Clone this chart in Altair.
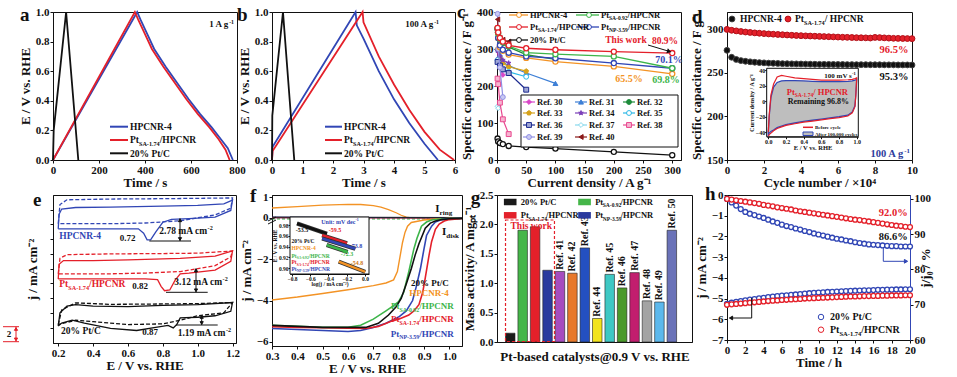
import altair as alt
import pandas as pd

FONT = "Liberation Serif"
BLUE = "#3146b5"; RED = "#e4202a"; BLACK = "#111111"; ORANGE = "#f39325"
GREEN = "#3db54a"; NAVY = "#27318f"; DBLUE = "#2c3c9c"; GRAY = "#bebebe"

PT174 = [("Pt", "n"), ("SA-1.74", "b"), ("/HPCNR", "n")]
PT092 = [("Pt", "n"), ("SA-0.92", "b"), ("/HPCNR", "n")]
PT359 = [("Pt", "n"), ("NP-3.59", "b"), ("/HPCNR", "n")]

# ---------------- data ----------------
# (a) GCD at 1 A/g
a_blue_t = [0, 366, 380, 410, 440, 490, 540, 590, 640, 690, 730, 760, 782]
a_blue_e = [0.0, 1.0, 0.95, 0.85, 0.75, 0.63, 0.52, 0.41, 0.31, 0.22, 0.14, 0.08, 0.0]
a_red_t = [0, 356, 370, 400, 430, 480, 530, 580, 630, 680, 720, 750, 768]
a_red_e = [0.0, 1.0, 0.95, 0.85, 0.75, 0.63, 0.52, 0.41, 0.31, 0.22, 0.14, 0.07, 0.0]
a_blk_t = [0, 3, 57, 110]
a_blk_e = [0.0, 0.2, 1.0, 0.0]
# (b) GCD at 100 A/g
b_blue_t = [0, 0.02, 2.74, 2.78, 3.0, 3.5, 4.0, 4.5, 5.0, 5.44]
b_blue_e = [0.0, 0.09, 1.0, 0.91, 0.82, 0.60, 0.41, 0.25, 0.11, 0.0]
b_red_t = [0, 0.02, 2.97, 3.0, 3.5, 4.0, 4.5, 5.0, 5.5, 5.97]
b_red_e = [0.0, 0.06, 1.0, 0.93, 0.70, 0.51, 0.34, 0.19, 0.07, 0.0]
b_blk_t = [0, 0.01, 0.36, 0.73]
b_blk_e = [0.0, 0.30, 1.0, 0.0]
# (c) rate capability
c_cd = [1, 2, 5, 10, 20, 50, 100, 200, 300]
c_hpcnr = [356, 330, 305, 295, 285, 276, 266, 253, 233]
c_sa092 = [355, 342, 328, 318, 308, 290, 286, 280, 248]
c_sa174 = [357, 345, 330, 320, 310, 302, 298, 293, 289]
c_np359 = [354, 330, 310, 298, 290, 280, 275, 262, 248]
c_ptc = [58, 50, 46, 43, 38, 35, 31, 22, 13]
c_ref_names = ["Ref. 30", "Ref. 31", "Ref. 32", "Ref. 33", "Ref. 34", "Ref. 35",
               "Ref. 36", "Ref. 37", "Ref. 38", "Ref. 39", "Ref. 40"]
c_ref_x = [[1, 2, 5, 10], [1, 5, 10, 20, 50, 100], [1, 5, 10, 20, 50, 100], [1, 5, 10, 20, 50],
           [1, 5, 10, 20], [1, 5, 10, 20, 50], [1, 5, 10, 20, 50], [1, 2], [1, 2, 5, 10, 20],
           [1, 2, 5, 10], [1, 2, 5, 10, 20]]
c_ref_y = [[300, 275, 250, 230], [300, 285, 265, 255, 235, 207], [345, 325, 315, 305, 285, 272],
           [300, 275, 262, 252, 240], [295, 280, 270, 262], [270, 255, 245, 238, 225],
           [265, 255, 245, 235, 190], [145, 140], [220, 205, 155, 110, 70],
           [395, 300, 250, 170], [380, 345, 330, 325, 320]]
# (d) cycling
d_cycle = [k * 0.25 for k in range(41)]
d_red = [300.0, 299.0, 298.3, 297.6, 297.0, 296.5, 296.0, 295.6, 295.2, 294.8, 294.5, 294.2, 293.9,
         293.6, 293.3, 293.0, 292.8, 292.6, 292.4, 292.2, 292.0, 291.8, 291.6, 291.4, 291.2, 291.0,
         290.9, 290.7, 290.5, 290.4, 290.3, 290.1, 290.8, 290.6, 290.3, 290.0, 289.8, 289.7, 289.6,
         289.5, 289.4]
d_blk = [276.0, 268.0, 265.5, 264.2, 263.4, 262.8, 262.3, 261.9, 261.6, 261.3, 261.1, 260.9, 260.7,
         260.6, 260.5, 260.4, 260.3, 260.2, 260.1, 260.0, 259.9, 259.9, 259.8, 259.8, 259.7, 259.7,
         259.6, 259.6, 259.5, 259.5, 259.5, 259.4, 259.4, 259.4, 259.3, 259.3, 259.3, 259.2, 259.2,
         259.2, 259.1]
di_E = [0.0, 0.01, 0.03, 0.06, 0.1, 0.15, 0.2, 0.3, 0.4, 0.5, 0.6, 0.7, 0.8, 0.9, 0.95, 0.98, 0.99, 1.0]
di_blue_up = [-40, -20, 5, 18, 24, 26, 26.5, 26.5, 26, 25.5, 25, 25, 25, 25.5, 26, 27, 27.5, 28]
di_blue_lo = [-43, -41, -39, -37, -34, -32, -30, -28, -26, -24.5, -23, -21.5, -20, -18, -14, -6, 8, 28]
di_red_up = [-40, -18, 8, 22, 31, 33, 32, 30, 29, 28, 27, 27, 27, 27.5, 28, 29, 29.5, 30]
di_red_lo = [-45, -43, -41, -38, -35, -33, -31, -29, -27, -25.5, -24, -22.5, -21, -19, -15, -7, 7, 30]
# (e) CVs (solid and dashed loops)
e_blue_x = [0.2, 0.205, 0.22, 0.3, 0.5, 0.8, 1.0, 1.15, 1.2, 1.19, 1.1, 0.95, 0.85, 0.8, 0.76, 0.73, 0.71, 0.69, 0.66, 0.5, 0.3, 0.2]
e_blue_y = [15.4, 17.4, 18.1, 18.3, 18.35, 18.5, 18.6, 18.8, 19.3, 17.9, 17.0, 16.8, 16.7, 16.3, 15.0, 13.9, 13.9, 14.8, 15.4, 15.4, 15.4, 15.4]
e_blued_x = [0.2, 0.21, 0.25, 0.5, 0.8, 1.0, 1.2, 1.19, 1.1, 0.9, 0.7, 0.5, 0.3, 0.2]
e_blued_y = [16.1, 18.7, 19.35, 19.45, 19.5, 19.55, 19.6, 18.2, 17.3, 16.5, 16.2, 16.1, 16.1, 16.1]
e_red_x = [0.2, 0.205, 0.23, 0.4, 0.6, 0.9, 1.1, 1.2, 1.19, 1.1, 0.95, 0.9, 0.87, 0.84, 0.81, 0.79, 0.77, 0.7, 0.5, 0.3, 0.2]
e_red_y = [8.6, 10.6, 11.1, 11.1, 11.2, 11.4, 11.7, 12.4, 11.0, 9.8, 9.4, 9.3, 8.4, 7.1, 7.0, 7.6, 8.5, 8.6, 8.6, 8.6, 8.6]
e_redd_x = [0.2, 0.21, 0.25, 0.5, 0.8, 1.0, 1.2, 1.19, 1.1, 0.9, 0.7, 0.5, 0.3, 0.2]
e_redd_y = [9.3, 11.4, 11.9, 12.0, 12.05, 12.1, 12.4, 11.6, 10.4, 9.6, 9.4, 9.3, 9.3, 9.3]
e_blk_x = [0.2, 0.21, 0.25, 0.3, 0.4, 0.6, 0.8, 1.0, 1.2, 1.19, 1.1, 1.0, 0.9, 0.88, 0.86, 0.83, 0.75, 0.65, 0.5, 0.35, 0.28, 0.22, 0.2]
e_blk_y = [2.2, 4.0, 4.9, 5.1, 4.9, 4.85, 5.0, 5.1, 5.4, 4.2, 3.6, 3.4, 3.3, 2.4, 1.95, 2.3, 2.0, 1.6, 1.9, 2.6, 3.0, 2.6, 2.2]
e_blkd_x = [0.2, 0.22, 0.3, 0.5, 0.8, 1.0, 1.2, 1.15, 1.0, 0.9, 0.8, 0.6, 0.4, 0.3, 0.2]
e_blkd_y = [2.4, 4.4, 5.35, 5.15, 5.2, 5.25, 5.4, 4.0, 3.6, 3.0, 2.5, 2.4, 2.8, 3.0, 2.4]
# (f) ORR polarization
f_or_x = [0.3, 0.4, 0.5, 0.6, 0.7, 0.75, 0.78, 0.795, 0.805, 0.815, 0.825, 0.835, 0.85, 0.9, 0.95, 1.0, 1.05]
f_or_y = [-3.97, -3.83, -3.66, -3.48, -3.28, -3.15, -3.0, -2.6, -1.9, -1.2, -0.7, -0.4, -0.22, -0.1, -0.05, -0.03, -0.02]
f_gr_x = [0.3, 0.4, 0.5, 0.6, 0.65, 0.7, 0.75, 0.78, 0.8, 0.82, 0.84, 0.86, 0.872, 0.89, 0.91, 0.93, 0.96, 1.0, 1.05]
f_gr_y = [-5.2, -5.25, -5.3, -5.3, -5.2, -4.9, -4.5, -4.25, -4.05, -3.6, -2.6, -1.5, -1.0, -0.4, -0.2, -0.1, -0.05, -0.03, -0.02]
f_bl_x = [0.3, 0.4, 0.5, 0.6, 0.65, 0.7, 0.75, 0.8, 0.83, 0.855, 0.87, 0.886, 0.9, 0.91, 0.93, 0.945, 0.97, 1.0, 1.05]
f_bl_y = [-5.35, -5.4, -5.45, -5.5, -5.45, -5.3, -5.1, -4.8, -4.5, -4.0, -3.3, -2.45, -1.5, -0.85, -0.4, -0.2, -0.08, -0.04, -0.02]
f_rd_x = [0.3, 0.4, 0.5, 0.6, 0.67, 0.72, 0.77, 0.8, 0.84, 0.86, 0.88, 0.895, 0.905, 0.92, 0.93, 0.945, 0.96, 0.98, 1.0, 1.05]
f_rd_y = [-5.27, -5.3, -5.32, -5.34, -5.35, -5.25, -5.0, -4.9, -4.7, -4.5, -4.2, -3.6, -2.9, -1.8, -1.15, -0.55, -0.3, -0.15, -0.08, -0.03]
f_bk_x = [0.3, 0.4, 0.5, 0.6, 0.67, 0.72, 0.76, 0.79, 0.81, 0.83, 0.85, 0.865, 0.88, 0.895, 0.905, 0.925, 0.945, 0.97, 1.0, 1.05]
f_bk_y = [-5.2, -5.25, -5.3, -5.3, -5.3, -5.1, -4.7, -4.3, -3.9, -3.2, -2.45, -1.8, -1.25, -0.8, -0.5, -0.25, -0.15, -0.08, -0.04, -0.02]
f_ring_x = [0.3, 0.4, 0.5, 0.6, 0.65, 0.7, 0.73, 0.76, 0.79, 0.81, 0.83, 0.85, 0.9, 1.05]
f_ring_y = [0.48, 0.55, 0.62, 0.66, 0.65, 0.6, 0.52, 0.4, 0.25, 0.13, 0.04, 0.0, 0.0, 0.0]
f_ring2_x = [0.3, 1.05]
f_ring_bk = [0.04, 0.01]
f_ring_bl = [0.02, 0.0]
f_ring_rd = [0.01, 0.0]
f_ring_gr = [-0.05, -0.05]
# (f) inset Tafel lines
fi_bk = ([-0.745, -0.417], [0.983, 0.964])
fi_rd = ([-0.47, -0.197], [0.961, 0.946])
fi_bl = ([-0.47, -0.106], [0.955, 0.936])
fi_gr = ([-0.42, -0.19], [0.943, 0.93])
fi_or = ([-0.288, 0.003], [0.912, 0.893])
# (g) mass activity
g_idx = list(range(14))
g_vals = [0.15, 1.90, 1.96, 1.22, 1.20, 1.17, 1.60, 0.40, 1.15, 0.92, 1.18, 0.70, 0.68, 1.90]
g_names = ["20% Pt/C", "PtSA-0.92/HPCNR", "PtSA-1.74/HPCNR", "PtNP-3.59/HPCNR",
           "Ref. 41", "Ref. 42", "Ref. 43", "Ref. 44", "Ref. 45", "Ref. 46", "Ref. 47",
           "Ref. 48", "Ref. 49", "Ref. 50"]
g_colors = ["#1a1a1a", "#45b649", "#e3202a", "#2a3a9e", "#a64cbf", "#e8782a", "#2450c0",
            "#f2e31c", "#3ec8c4", "#4a9a2a", "#c21e6e", "#a3a3a3", "#5cb8ec", "#6a72b8"]
# (h) chronoamperometry
h_t = [k * 0.5 for k in range(41)]
h_blue_r = [100.0, 99.0, 98.1, 97.1, 96.3, 95.8, 95.4, 95.0, 94.6, 94.1, 93.6, 93.2, 92.7, 92.3, 92.0,
            91.6, 91.3, 90.9, 90.6, 90.2, 89.9, 89.6, 89.3, 89.0, 88.7, 88.5, 88.2, 88.0, 87.7, 87.5,
            87.3, 87.1, 87.0, 86.9, 86.8, 86.7, 86.6, 86.6, 86.5, 86.5, 86.5]
h_red_r = [100.0, 99.8, 99.6, 99.4, 99.2, 99.0, 98.8, 98.6, 98.3, 98.1, 97.9, 97.6, 97.4, 97.2, 97.0,
           96.7, 96.5, 96.3, 96.1, 95.9, 95.7, 95.5, 95.3, 95.1, 94.9, 94.7, 94.5, 94.3, 94.1, 94.0,
           93.8, 93.6, 93.4, 93.2, 93.0, 92.8, 92.6, 92.4, 92.3, 92.1, 92.0]
h_blue_j = [-5.25, -5.2, -5.16, -5.12, -5.08, -5.05, -5.02, -4.99, -4.96, -4.93, -4.9, -4.88, -4.86,
            -4.84, -4.82, -4.8, -4.78, -4.76, -4.74, -4.72, -4.71, -4.7, -4.68, -4.67, -4.66, -4.65,
            -4.64, -4.63, -4.62, -4.61, -4.6, -4.6, -4.59, -4.58, -4.58, -4.57, -4.57, -4.56, -4.56,
            -4.55, -4.55]
h_red_j = [-5.3, -5.28, -5.26, -5.24, -5.22, -5.2, -5.18, -5.16, -5.14, -5.12, -5.1, -5.09, -5.07,
           -5.06, -5.04, -5.03, -5.02, -5.0, -4.99, -4.98, -4.97, -4.96, -4.95, -4.94, -4.93, -4.92,
           -4.91, -4.9, -4.9, -4.89, -4.88, -4.88, -4.87, -4.87, -4.86, -4.86, -4.85, -4.85, -4.85,
           -4.84, -4.84]

# ---------------- styles ----------------
STAR = "M0,-1L0.2245,-0.309L0.951,-0.309L0.363,0.118L0.588,0.809L0,0.382L-0.588,0.809L-0.363,0.118L-0.951,-0.309L-0.2245,-0.309Z"
PENT = "M0,-1L0.951,-0.309L0.588,0.809L-0.588,0.809L-0.951,-0.309Z"
c_ref_style = [("#d946c8", "diamond", "#d946c8"), ("#3d7fd6", "triangle-up", "#3d7fd6"),
               ("#1d8b3a", "circle", "#1d8b3a"), ("#d6a21a", PENT, "#d6a21a"),
               ("#7a3db8", STAR, "#7a3db8"), ("#2bb8e6", "circle", "white"),
               ("#1c2a8f", "square", "#9fa6d6"), ("#86d8ec", "diamond", "white"),
               ("#e8488f", "square", "#f6b4d0"), ("#8f8fe3", "circle", "#c9c9f3"),
               ("#8b1a1a", "triangle-left", "#8b1a1a")]

# Times-bold advance widths (per 1000 em) for laying out rich text
CW = {}
CW.update(zip("ABCDEFGHIJKLMNOPQRSTUVWXYZ", [722, 667, 722, 722, 667, 611, 778, 778, 389, 500, 778, 667, 944,
                                               722, 778, 611, 778, 722, 556, 667, 722, 722, 1000, 722, 722, 667]))
CW.update(zip("abcdefghijklmnopqrstuvwxyz", [500, 556, 444, 556, 444, 333, 500, 556, 278, 333, 556, 278, 833,
                                               556, 500, 556, 556, 444, 389, 333, 556, 500, 722, 500, 500, 444]))
CW.update({c: 500 for c in "0123456789"})
CW.update({" ": 250, ".": 250, ",": 250, "-": 333, "/": 278, "%": 1000, ":": 333, "(": 333, ")": 333})


def tw(s, fs):
    return sum(CW.get(ch, 500) for ch in s) * fs / 1000.0


def ax(title, values=None, fmt=None, **kw):
    d = dict(title=title, grid=False)
    if values is not None:
        d["values"] = values
    if fmt:
        d["format"] = fmt
    d.update(kw)
    return alt.Axis(**d)


class Panel:
    def __init__(self, w, h, xd, yd, xaxis=None, yaxis=None, xr=None, yr=None):
        self.w, self.h, self.xd, self.yd = w, h, xd, yd
        self.xaxis, self.yaxis, self.xr, self.yr = xaxis, yaxis, xr, yr
        self.BG, self.B, self.BD, self.R, self.RD, self.P, self.T = [], [], [], [], [], [], []

    def X(self, px):
        r0, r1 = self.xr if self.xr else (0, self.w)
        return self.xd[0] + (px - r0) / (r1 - r0) * (self.xd[1] - self.xd[0])

    def Y(self, py):
        r0, r1 = self.yr if self.yr else (self.h, 0)
        return self.yd[0] + (py - r0) / (r1 - r0) * (self.yd[1] - self.yd[0])

    def xe(self, f="x"):
        kw = dict(domain=self.xd, nice=False, zero=False)
        if self.xr:
            kw["range"] = list(self.xr)
        return alt.X(f"{f}:Q", scale=alt.Scale(**kw), axis=self.xaxis)

    def ye(self, f="y"):
        kw = dict(domain=self.yd, nice=False, zero=False)
        if self.yr:
            kw["range"] = list(self.yr)
        return alt.Y(f"{f}:Q", scale=alt.Scale(**kw), axis=self.yaxis)

    def text(self, parts, px, py, fs, c, align="left", base=False):
        if isinstance(parts, str):
            parts = [(parts, "n")]
        sz = {"n": fs, "b": fs * 0.65, "p": fs * 0.65}
        total = sum(tw(t, sz[k]) for t, k in parts)
        x0 = px - total if align == "right" else (px - total / 2 if align == "center" else px)
        b = py if base else py + 0.34 * fs
        for t, k in parts:
            dy = {"n": 0.0, "b": 0.28 * fs, "p": -0.38 * fs}[k]
            self.T.append({"x": self.X(x0), "y": self.Y(b + dy), "t": t, "fs": sz[k], "c": c})
            x0 += tw(t, sz[k])

    def rule(self, x1, y1, x2, y2, c, sw=1.0, dash=False):
        (self.RD if dash else self.R).append({"x": self.X(x1), "y": self.Y(y1), "x2": self.X(x2),
                                              "y2": self.Y(y2), "c": c, "sw": sw})

    def pt(self, px, py, shape, stroke, fill, size, angle=0):
        self.P.append({"x": self.X(px), "y": self.Y(py), "shape": shape, "stroke": stroke,
                       "fill": fill, "size": size, "angle": angle})

    def rect(self, x1, y1, x2, y2, fill, stroke, dash=False, bg=False):
        row = {"x": self.X(x1), "y": self.Y(y1), "x2": self.X(x2), "y2": self.Y(y2),
               "fill": fill, "stroke": stroke}
        (self.BG if bg else (self.BD if dash else self.B)).append(row)

    def _rects(self, rows, **mk):
        return alt.Chart(pd.DataFrame(rows)).mark_rect(**mk).encode(
            x=self.xe(), x2=alt.X2("x2"), y=self.ye(), y2=alt.Y2("y2"),
            fill=alt.Fill("fill:N", scale=None), stroke=alt.Stroke("stroke:N", scale=None))

    def bg_layers(self):
        return [self._rects(self.BG, strokeWidth=1)] if self.BG else []

    def layers(self):
        out = []
        if self.B:
            out.append(self._rects(self.B, strokeWidth=1))
        if self.BD:
            out.append(self._rects(self.BD, strokeWidth=1.2, strokeDash=[3, 2]))
        for rows, dash in ((self.R, None), (self.RD, [3, 2])):
            if rows:
                mk = {"strokeDash": dash} if dash else {}
                out.append(alt.Chart(pd.DataFrame(rows)).mark_rule(**mk).encode(
                    x=self.xe(), x2=alt.X2("x2"), y=self.ye(), y2=alt.Y2("y2"),
                    color=alt.Color("c:N", scale=None),
                    strokeWidth=alt.StrokeWidth("sw:Q", scale=None)))
        if self.P:
            out.append(alt.Chart(pd.DataFrame(self.P)).mark_point(filled=True, opacity=1, strokeWidth=1).encode(
                x=self.xe(), y=self.ye(), shape=alt.Shape("shape:N", scale=None),
                fill=alt.Fill("fill:N", scale=None), stroke=alt.Stroke("stroke:N", scale=None),
                size=alt.Size("size:Q", scale=None), angle=alt.Angle("angle:Q", scale=None)))
        if self.T:
            out.append(alt.Chart(pd.DataFrame(self.T)).mark_text(
                align="left", baseline="alphabetic", font=FONT, fontWeight="bold").encode(
                x=self.xe(), y=self.ye(), text=alt.Text("t:N"),
                size=alt.Size("fs:Q", scale=None), color=alt.Color("c:N", scale=None)))
        return out


def line(P, xs, ys, color, sw=1.5, dash=None):
    d = pd.DataFrame({"x": list(xs), "y": list(ys)})
    d["i"] = range(len(d))
    mk = dict(color=color, strokeWidth=sw)
    if dash:
        mk["strokeDash"] = dash
    return alt.Chart(d).mark_line(**mk).encode(x=P.xe(), y=P.ye(), order="i:Q")


def pts(P, xs, ys, shape, fill, stroke, size, sw=1.0):
    d = pd.DataFrame({"x": list(xs), "y": list(ys)})
    return alt.Chart(d).mark_point(shape=shape, filled=True, fill=fill, stroke=stroke, size=size,
                                   strokeWidth=sw, opacity=1).encode(x=P.xe(), y=P.ye())


# ================= (a) =================
Pa = Panel(184, 148, [0, 800], [0, 1.0], ax("Time / s", [0, 200, 400, 600, 800]),
           ax("E / V vs. RHE", [0, 0.2, 0.4, 0.6, 0.8, 1.0], ".1f"))
Pa.text([("1 A g", "n"), ("-1", "p")], 181, 12, 9, BLACK, "right")
for yy, col, lab in [(114.7, BLUE, "HPCNR-4"), (128, RED, PT174), (141.3, BLACK, "20% Pt/C")]:
    Pa.rule(57, yy, 75, yy, col, 2)
    Pa.text(lab, 77, yy, 9.5, BLACK)
Pa.text("a", -33, 8.7, 19, BLACK, base=True)
ch_a = alt.layer(line(Pa, a_blue_t, a_blue_e, BLUE, 1.8), line(Pa, a_red_t, a_red_e, RED, 1.8),
                 line(Pa, a_blk_t, a_blk_e, BLACK, 1.8), *Pa.layers()).properties(width=Pa.w, height=Pa.h)

# ================= (b) =================
Pb = Panel(183, 148, [0, 6], [0, 1.0], ax("Time / s", [0, 1, 2, 3, 4, 5, 6]),
           ax("E / V vs. RHE", [0, 0.2, 0.4, 0.6, 0.8, 1.0], ".1f"))
Pb.text([("100 A g", "n"), ("-1", "p")], 167, 12, 9, BLACK, "right")
for yy, col, lab in [(114.7, BLUE, "HPCNR-4"), (128, RED, PT174), (141.3, BLACK, "20% Pt/C")]:
    Pb.rule(53, yy, 70, yy, col, 2)
    Pb.text(lab, 72, yy, 9.5, BLACK)
Pb.text("b", -35, 8.7, 19, BLACK, base=True)
ch_b = alt.layer(line(Pb, b_blue_t, b_blue_e, BLUE, 1.8), line(Pb, b_red_t, b_red_e, RED, 1.8),
                 line(Pb, b_blk_t, b_blk_e, BLACK, 1.8), *Pb.layers()).properties(width=Pb.w, height=Pb.h)

# ================= (c) =================
Pc = Panel(184, 148, [0, 315], [0, 400], ax("Current density / A g⁻¹", [0, 50, 100, 150, 200, 250, 300]),
           ax("Specific capacitance / F g⁻¹", [0, 100, 200, 300, 400]))
lay_c = []
for xs, ys, (col, shp, fil) in zip(c_ref_x, c_ref_y, c_ref_style):
    lay_c.append(line(Pc, xs, ys, col, 1.2))
    lay_c.append(pts(Pc, xs, ys, shp, fil, col, 24))
for ys, col in [(c_ptc, BLACK), (c_hpcnr, ORANGE), (c_np359, BLUE), (c_sa092, GREEN), (c_sa174, RED)]:
    lay_c.append(line(Pc, c_cd, ys, col, 1.3))
    lay_c.append(pts(Pc, c_cd, ys, "circle", "white", col, 26, 1.3))
Pc.rect(24, 83, 181, 135, "white", BLACK)
for k, (name, (col, shp, fil)) in enumerate(zip(c_ref_names, c_ref_style)):
    r, q = divmod(k, 3)
    yy = [90, 101, 113, 125][r]
    mx = [32, 84, 132][q]
    Pc.rule(mx - 6, yy, mx + 6, yy, col, 1.2)
    Pc.pt(mx, yy, shp, col, fil, 24)
    Pc.text(name, mx + 8, yy, 8.5, BLACK)
for x1, x2, mx, yy, col, lab in [(12, 31, 22, 3, ORANGE, "HPCNR-4"), (79, 102, 92, 3, GREEN, PT092),
                                 (12, 31, 22, 15, RED, PT174), (79, 102, 92, 15, BLUE, PT359),
                                 (12, 31, 22, 28, BLACK, "20% Pt/C")]:
    Pc.rule(x1, yy, x2, yy, col, 1.3)
    Pc.pt(mx, yy, "circle", col, "white", 24)
    Pc.text(lab, x2 + 2, yy, 8.5, BLACK)
Pc.text("This work", 129, 28, 9.5, RED, "center")
Pc.text("80.9%", 168, 28.5, 9.5, RED, "center")
Pc.rule(151, 33, 171, 39, BLACK, 1)
Pc.pt(172, 39.3, "triangle-right", BLACK, BLACK, 12, 17)
Pc.text("70.1%", 172, 48, 10, BLUE, "center")
Pc.text("65.5%", 132, 67, 10, ORANGE, "center")
Pc.text("69.8%", 169, 68, 10, GREEN, "center")
Pc.text("c", -40, 6.3, 19, BLACK, base=True)
ch_c = alt.layer(*lay_c, *Pc.layers()).properties(width=Pc.w, height=Pc.h)

# ================= (d) =================
Pd = Panel(185, 148, [0, 10], [150, 320], ax("Cycle number / ×10⁴", [0, 2, 4, 6, 8, 10]),
           ax("Specific capacitance / F g⁻¹", [150, 200, 250, 300]))
Pd.pt(5, 7, "circle", "#444444", BLACK, 34)
Pd.text("HPCNR-4", 13, 7, 9.5, BLACK)
Pd.pt(61, 7, "circle", "#b01018", RED, 34)
Pd.text([("Pt", "n"), ("SA-1.74", "b"), ("/ HPCNR", "n")], 68, 7, 9.5, BLACK)
Pd.text("96.5%", 167, 37, 10.5, RED, "center")
Pd.text("95.3%", 167, 64, 10.5, BLACK, "center")
Pd.text([("100 A g", "n"), ("-1", "p")], 183, 141.5, 10.5, DBLUE, "right")
Pd.text("d", -35, 11.3, 19, BLACK, base=True)
Pdi = Panel(185, 148, [-0.018, 1.018], [-45.6, 42.2],
            ax("E / V vs. RHE", [0, 0.2, 0.4, 0.6, 0.8, 1.0], ".1f", orient="bottom", offset=124.7 - 148,
               labelFontSize=6, titleFontSize=6.5, tickSize=2, labelPadding=0, titlePadding=0),
            ax("Current density / A g⁻¹", [-40, -20, 0, 20, 40], "d", orient="left", offset=-39.7,
               labelFontSize=6, titleFontSize=6, tickSize=2, labelPadding=0, titlePadding=1),
            xr=(39.7, 131.3), yr=(124.7, 56.3))
Pdi.rect(39.7, 56.3, 131.3, 124.7, "white", BLACK, bg=True)
Pdi.text([("100 mV s", "n"), ("-1", "p")], 113, 63.5, 7, BLACK, "center")
Pdi.text([("Pt", "n"), ("SA-1.74", "b"), ("/ HPCNR", "n")], 59.7, 80, 8.5, RED)
Pdi.text("Remaining 96.8%", 60.7, 89.5, 8, BLACK)
Pdi.rule(76, 115.3, 86, 115.3, RED, 1.5)
Pdi.text("Before cycle", 88, 115.3, 5, BLACK)
Pdi.rect(76, 120, 86, 123.5, GRAY, BLUE)
Pdi.text("After 100,000 cycles", 88, 122, 5, BLACK)
area_d = alt.Chart(pd.DataFrame({"x": di_E, "y": di_blue_up, "y2": di_blue_lo})).mark_area(
    fill=GRAY, stroke=BLUE, strokeWidth=1.3, opacity=1).encode(x=Pdi.xe(), y=Pdi.ye(), y2=alt.Y2("y2"))
main_d = alt.layer(pts(Pd, d_cycle, d_blk, "circle", BLACK, "#444444", 34),
                   pts(Pd, d_cycle, d_red, "circle", RED, "#b01018", 34), *Pd.layers())
inset_d = alt.layer(*Pdi.bg_layers(), area_d,
                    line(Pdi, di_E + di_E[::-1], di_red_up + di_red_lo[::-1], RED, 1.2), *Pdi.layers())
ch_d = alt.layer(main_d, inset_d).resolve_scale(x="independent", y="independent").properties(width=Pd.w, height=Pd.h)

# ================= (e) =================
Pe = Panel(183, 148, [0.17, 1.22], [-0.1, 20], ax("E / V vs. RHE", [0.2, 0.4, 0.6, 0.8, 1.0, 1.2], ".1f"),
           ax("j / mA cm⁻²", [2, 4, 6, 8, 10, 12, 14, 16, 18], labels=False, titlePadding=10))
for (tx, cx, ty, vx, vy1, vy2, hx1, hx2, col, lab, val) in [
        (6.3, 74.7, 41, 127, 23.3, 46, 96.3, 138, BLUE, "HPCNR-4", "0.72"),
        (6.3, 87, 89, 143, 73.3, 97.3, 113, 154.7, RED, PT174, "0.82"),
        (8, 97, 135.5, 148.7, 120, 130, 123, 164.7, BLACK, "20% Pt/C", "0.87")]:
    Pe.text(lab, tx, ty, 9.5, col)
    Pe.text(val, cx, ty + (2 if col != BLACK else 1.5), 9, BLACK, "center")
    Pe.rule(vx, vy1, vx, vy2, BLACK, 1)
    Pe.pt(vx, vy1 + 2, "triangle-up", BLACK, BLACK, 10)
    Pe.pt(vx, vy2 - 2, "triangle-down", BLACK, BLACK, 10)
    Pe.rule(hx1, vy2, hx2, vy2, BLACK, 1)
Pe.text([("2.78 mA cm", "n"), ("-2", "p")], 106.3, 35.5, 9.5, BLACK)
Pe.text([("3.12 mA cm", "n"), ("-2", "p")], 121.3, 86.7, 9.5, BLACK)
Pe.text([("1.19 mA cm", "n"), ("-2", "p")], 124.7, 137.5, 9.5, BLACK)
Pe.rule(-37, 131.7, -37, 146.7, RED, 1)
Pe.rule(-50, 131.7, -34, 131.7, RED, 1)
Pe.rule(-50, 146.7, -34, 146.7, RED, 1)
Pe.pt(-37, 134, "triangle-up", RED, RED, 10)
Pe.pt(-37, 144.4, "triangle-down", RED, RED, 10)
Pe.text("2", -44, 139, 9, BLACK, "center")
Pe.text("e", -20, 10.7, 19, BLACK, base=True)
ch_e = alt.layer(line(Pe, e_blued_x, e_blued_y, BLUE, 1.3, [4, 2]), line(Pe, e_blue_x, e_blue_y, BLUE, 1.3),
                 line(Pe, e_redd_x, e_redd_y, RED, 1.3, [4, 2]), line(Pe, e_red_x, e_red_y, RED, 1.3),
                 line(Pe, e_blkd_x, e_blkd_y, BLACK, 1.3, [4, 2]), line(Pe, e_blk_x, e_blk_y, BLACK, 1.3),
                 *Pe.layers()).properties(width=Pe.w, height=Pe.h)

# ================= (f) =================
Pf = Panel(190, 151, [0.3, 1.05], [-6.2, 1.11], ax("E / V vs. RHE", [0.3, 0.4, 0.5, 0.6, 0.7, 0.8, 0.9, 1.0], ".1f"),
           ax("j / mA cm⁻²", [1, 0, -2, -4, -6], "d"))
Pf.text([("I", "n"), ("ring", "b")], 163.3, 13.3, 11, BLACK)
Pf.text([("I", "n"), ("disk", "b")], 170, 35.8, 11, BLACK)
Pf.text("20% Pt/C", 176.7, 88, 9, BLACK, "right")
Pf.text("HPCNR-4", 176.7, 97.5, 9, ORANGE, "right")
Pf.text(PT092, 181.7, 111, 9, GREEN, "right")
Pf.text(PT174, 181.7, 124, 9, RED, "right")
Pf.text(PT359, 181.7, 138.5, 9, BLUE, "right")
Pf.rule(-4, 26, 4, 22, BLACK, 1)
Pf.rule(-4, 29, 4, 25, BLACK, 1)
Pf.text("f", -22, 6.7, 19, BLACK, base=True)
Pfi = Panel(190, 151, [-0.822, 0.044], [0.889, 0.995],
            ax("log(j / mA cm⁻²)", [-0.8, -0.6, -0.4, -0.2, 0.0], ".1f", orient="bottom", offset=79 - 151,
               labelFontSize=5.5, titleFontSize=5.5, tickSize=2, labelPadding=0, titlePadding=0),
            ax("E / V vs. RHE", [0.90, 0.92, 0.94, 0.96, 0.98], ".2f", orient="left", offset=-18,
               labelFontSize=5.5, titleFontSize=5.5, tickSize=2, labelPadding=0, titlePadding=1),
            xr=(18, 97), yr=(79, 22))
Pfi.rect(18, 22, 97, 79, "white", BLACK, bg=True)
Pfi.text([("Unit: mV dec", "n"), ("-1", "p")], 68, 26.5, 6, BLUE, "center")
Pfi.text("-53.5", 30, 35, 6, BLACK, "center")
Pfi.text("-59.5", 63, 35, 6, RED, "center")
Pfi.text("-73.8", 84, 51, 6, BLUE, "center")
Pfi.text("-72.3", 75, 58.5, 6, GREEN, "center")
Pfi.text("-54.8", 85, 68, 6, "#d07a1a", "center")
for yy, col, lab in [(46, BLACK, "20% Pt/C"), (53.3, ORANGE, "HPCNR-4"), (60.7, GREEN, PT092),
                     (67.3, RED, PT174), (74, BLUE, PT359)]:
    Pfi.text(lab, 19.5, yy, 5.5, col)
lay_fi = [*Pfi.bg_layers()]
for (xs, ys), col in [(fi_bk, BLACK), (fi_rd, RED), (fi_bl, BLUE), (fi_gr, GREEN), (fi_or, ORANGE)]:
    lay_fi.append(line(Pfi, xs, ys, "#333333", 4.2))
    lay_fi.append(line(Pfi, xs, ys, col, 2.6))
main_f = alt.layer(line(Pf, f_ring_x, f_ring_y, ORANGE, 1.3),
                   line(Pf, f_ring2_x, f_ring_gr, GREEN, 1.3, [3, 2]),
                   line(Pf, f_ring2_x, f_ring_bl, BLUE, 1.3), line(Pf, f_ring2_x, f_ring_rd, RED, 1.3),
                   line(Pf, f_ring2_x, f_ring_bk, "#222233", 1.3),
                   line(Pf, f_or_x, f_or_y, ORANGE, 1.4), line(Pf, f_gr_x, f_gr_y, GREEN, 1.6),
                   line(Pf, f_bl_x, f_bl_y, BLUE, 1.6), line(Pf, f_rd_x, f_rd_y, RED, 1.6),
                   line(Pf, f_bk_x, f_bk_y, BLACK, 1.6), *Pf.layers())
inset_f = alt.layer(*lay_fi, *Pfi.layers())
ch_f = alt.layer(main_f, inset_f).resolve_scale(x="independent", y="independent").properties(width=Pf.w, height=Pf.h)

# ================= (g) =================
Pg = Panel(195, 147, [-0.664, 14.22], [0, 2.5],
           ax("Pt-based catalysts@0.9 V vs. RHE", labels=False, ticks=False, titlePadding=8),
           ax("Mass activity/ A mgₚₜ⁻¹", [0, 0.5, 1.0, 1.5, 2.0, 2.5], ".1f"))
bars = alt.Chart(pd.DataFrame({"x": g_idx, "y": g_vals, "c": g_colors})).mark_bar(
    size=9.5, stroke="#222222", strokeWidth=0.6).encode(x=Pg.xe(), y=Pg.ye(), color=alt.Color("c:N", scale=None))
ref_lab = alt.Chart(pd.DataFrame({"x": g_idx[4:], "y": [v + 0.03 for v in g_vals[4:]], "t": g_names[4:]})).mark_text(
    angle=270, align="left", baseline="middle", fontSize=10, font=FONT, fontWeight="bold", color=BLACK).encode(
    x=Pg.xe(), y=Pg.ye(), text="t:N")
for yy, x1, x2, col, lab in [(7, 2, 15.3, g_colors[0], "20% Pt/C"), (7, 80.3, 93.7, g_colors[1], PT092),
                             (20.3, 2, 15.3, g_colors[2], PT174), (20.3, 80.3, 93.7, g_colors[3], PT359)]:
    Pg.rule(x1, yy, x2, yy, col, 6.5)
    Pg.text(lab, x2 + 4.5, yy, 8.5, BLACK)
Pg.rect(3.7, 25, 55.3, 146.5, "transparent", RED, dash=True)
Pg.text("This work", 29.7, 31, 9.5, RED, "center")
Pg.text("g", -33, 8.7, 19, BLACK, base=True)
ch_g = alt.layer(bars, ref_lab, *Pg.layers()).properties(width=Pg.w, height=Pg.h)

# ================= (h) =================
XH = ax("Time / h", list(range(0, 21, 2)))
Ph = Panel(183, 145, [0, 20], [-7, 0], XH, ax("j / mA cm⁻²", [-7, -6, -5, -4, -3, -2, -1, 0], "d"))
Phr = Panel(183, 145, [0, 20], [60, 101.1], XH,
            ax("j/j₀ / %", [60, 70, 80, 90, 100], "d", orient="right", domainColor=BLUE, titleAngle=270,
               titlePadding=2))
Ph.text("92.0%", 180.7, 17.7, 10.5, RED, "right")
Ph.text("86.6%", 180.7, 41, 10.5, BLACK, "right")
Ph.rule(156.3, 53, 156.3, 66.3, BLUE, 1)
Ph.rule(156.3, 66.3, 179, 66.3, BLUE, 1)
Ph.pt(179, 66.3, "triangle-right", BLUE, BLUE, 14)
Ph.rule(24.7, 103, 24.7, 123, BLACK, 1)
Ph.rule(24.7, 123, 4, 123, BLACK, 1)
Ph.pt(4, 123, "triangle-left", BLACK, BLACK, 14)
Ph.pt(94, 122, "circle", BLUE, "white", 30)
Ph.text("20% Pt/C", 103, 122, 10, BLACK)
Ph.pt(94, 134.7, "circle", RED, "white", 30)
Ph.text(PT174, 103, 134.7, 10, BLACK)
Ph.text("h", -22, 5.3, 19, BLACK, base=True)
left_h = alt.layer(pts(Ph, h_t, h_blue_j, "circle", "white", BLUE, 24, 1.3),
                   pts(Ph, h_t, h_red_j, "circle", "white", RED, 24, 1.3), *Ph.layers())
right_h = alt.layer(pts(Phr, h_t, h_blue_r, "circle", "white", BLUE, 24, 1.3),
                    pts(Phr, h_t, h_red_r, "circle", "white", RED, 24, 1.3))
ch_h = alt.layer(left_h, right_h).resolve_scale(y="independent").properties(width=Ph.w, height=Ph.h)

# ================= layout =================
chart = alt.concat(ch_a, ch_b, ch_c, ch_d, ch_e, ch_f, ch_g, ch_h, columns=4,
                   spacing={"row": 35, "column": 35}, bounds="flush", align="each").properties(
    padding={"left": 1, "top": 2, "right": 4, "bottom": 0}, background="white")
chart = chart.configure_view(stroke=BLACK, strokeWidth=1).configure_axis(
    labelFont=FONT, titleFont=FONT, labelFontWeight="bold", titleFontWeight="bold",
    labelFontSize=11, titleFontSize=13, labelColor=BLACK, titleColor=BLACK,
    domainColor=BLACK, tickColor=BLACK, tickSize=3, labelPadding=1, grid=False,
    labelFlush=False, labelOverlap=False, domainWidth=1).configure_axisX(titlePadding=1).configure_axisY(
    titlePadding=3).configure_text(font=FONT, fontWeight="bold")

chart.save("out.html", embed_options={"renderer": "svg", "actions": False})
